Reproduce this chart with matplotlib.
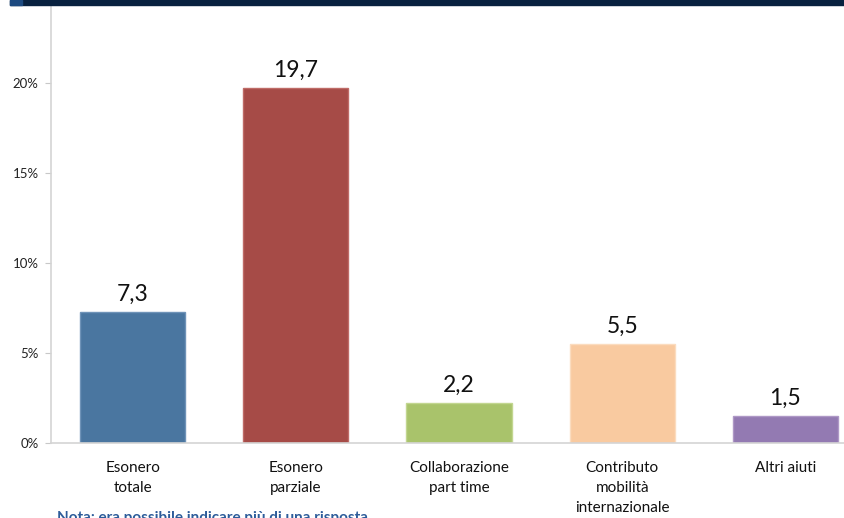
import matplotlib.pyplot as plt
from matplotlib.patches import Rectangle

categories = ["Esonero\ntotale", "Esonero\nparziale", "Collaborazione\npart time",
              "Contributo\nmobilità\ninternazionale", "Altri aiuti"]
values = [7.3, 19.7, 2.2, 5.5, 1.5]
colors = ["#4A76A0", "#A64B47", "#A9C36B", "#F9CAA0", "#937AB2"]
edges = ["#6F93B8", "#BF6B67", "#C2D690", "#FBDCBF", "#AE98C6"]
yticks = [0, 5, 10, 15, 20]
note = "Nota: era possibile indicare più di una risposta"

plt.rcParams["font.family"] = ["Lato", "DejaVu Sans"]

W, H = 844, 518
fig = plt.figure(figsize=(W / 100, H / 100), dpi=100)

# dark header strip
fig.patches.append(Rectangle((10 / W, 1 - 5 / H), 1, 5 / H, transform=fig.transFigure,
                             color="#08213F", zorder=5))
fig.patches.append(Rectangle((10 / W, 1 - 5 / H), 12 / W, 5 / H, transform=fig.transFigure,
                             color="#1D4A80", zorder=6))

ax = fig.add_axes([51 / W, 75 / H, (867 - 51) / W, (443 - 5) / H])
x = range(len(values))
ax.bar(x, values, width=0.645, color=colors, edgecolor=edges, linewidth=1, zorder=2)
for xi, v in zip(x, values):
    ax.text(xi, v + 0.4, f"{v:.1f}".replace(".", ","), ha="center", va="bottom",
            fontsize=16.5, color="#111111")

ax.set_xlim(-0.5, 4.5)
ax.set_ylim(0, (443 - 5) / 18)
ax.set_yticks(yticks)
ax.set_yticklabels([f"{t}%" for t in yticks], fontsize=9.5, color="#222222")
ax.set_xticks(list(x))
ax.set_xticklabels(categories, fontsize=11, color="#111111", va="top",
                   linespacing=1.55)
ax.tick_params(axis="y", length=4, color="#C8C8C8", pad=5)
ax.tick_params(axis="x", length=0, pad=13)

for side in ("top", "right"):
    ax.spines[side].set_visible(False)
for side in ("left", "bottom"):
    ax.spines[side].set_color("#D4D4D4")
    ax.spines[side].set_linewidth(1.2)

fig.text(57 / W, -7 / H, note, fontsize=11, color="#2D5C9A", va="bottom",
         fontweight="bold")

fig.savefig("out.png", dpi=100)
